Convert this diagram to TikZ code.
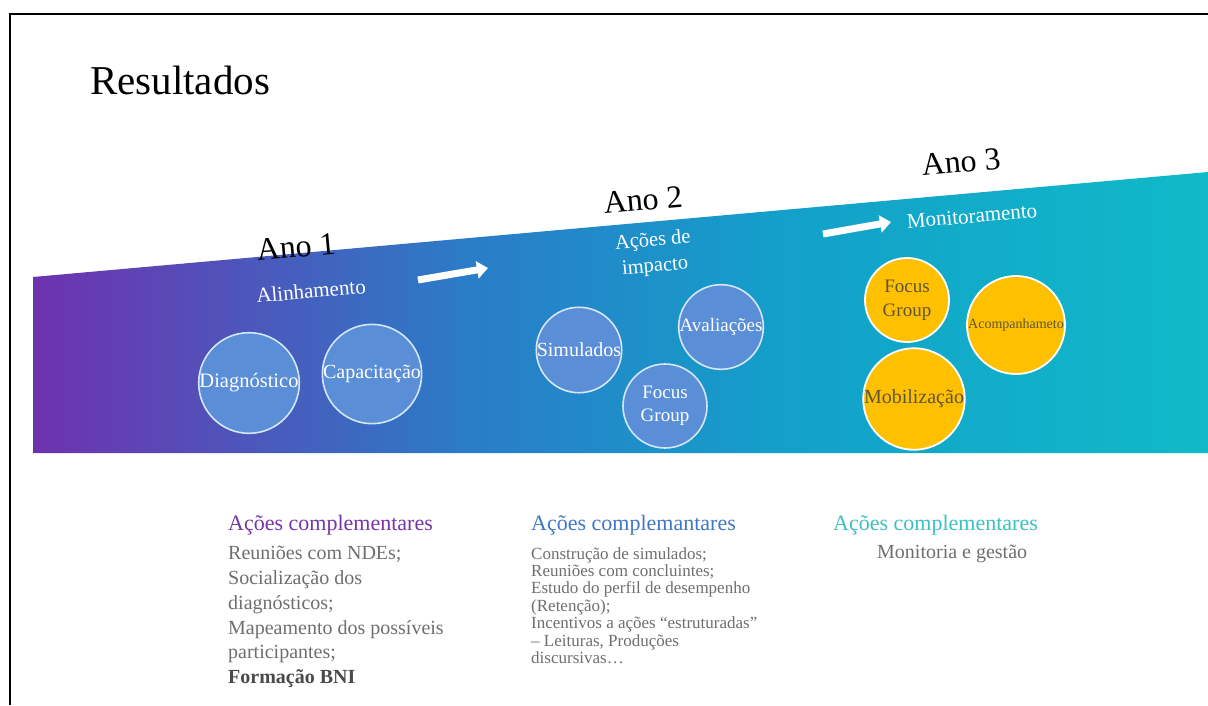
\documentclass[tikz,border=0pt]{standalone}
\usepackage{fontspec}
\setmainfont{Liberation Serif}
\usetikzlibrary{arrows.meta}
\definecolor{bandA}{HTML}{6E32AE}
\definecolor{bandB}{HTML}{2A7DC8}
\definecolor{bandC}{HTML}{13A0CA}
\definecolor{bandD}{HTML}{10BAC8}
\definecolor{bluefill}{HTML}{5A8FD8}
\definecolor{blueedge}{HTML}{D4E6F8}
\definecolor{goldfill}{HTML}{FFC000}
\definecolor{goldtext}{HTML}{5F5535}
\definecolor{titlepurple}{HTML}{7535A8}
\definecolor{titleblue}{HTML}{3F76C6}
\definecolor{titleteal}{HTML}{3EBFC2}
\definecolor{bodygray}{HTML}{6E6E6E}
\definecolor{boldgray}{HTML}{4A4A4A}
\pgfdeclarehorizontalshading{bandshade}{100bp}{color(0bp)=(bandA); color(25bp)=(bandA); color(43.8bp)=(bandB); color(57bp)=(bandC); color(75bp)=(bandD); color(100bp)=(bandD)}
\tikzset{
  bluecircle/.style={circle, fill=bluefill, draw=blueedge, line width=1.6pt, text=white, inner sep=0pt, align=center, font=\fontsize{19}{23}\selectfont},
  goldcircle/.style={circle, fill=goldfill, draw=white, line width=1.8pt, text=goldtext, inner sep=0pt, align=center, font=\fontsize{19}{24}\selectfont},
  yearlabel/.style={rotate=5, font=\fontsize{32}{34}\selectfont, text=black, inner sep=0pt},
  phaselabel/.style={rotate=5, text=white, inner sep=0pt, align=center, font=\fontsize{20.5}{26}\selectfont},
  blockarrow/.style={white, line width=7pt, -{Triangle[length=11pt,width=17pt]}},
  coltitle/.style={anchor=west, inner sep=0pt, font=\fontsize{22}{24}\selectfont},
  colbody/.style={anchor=north west, inner sep=0pt, align=left, text=bodygray}
}
\begin{document}
\begin{tikzpicture}[x=1pt,y=-1pt]
\useasboundingbox (0,0) rectangle (1208,705);
% frame
\draw[line width=2pt] (10,705) -- (10,14) -- (1208,14);
% title
\node[anchor=west, inner sep=0pt, font=\fontsize{41}{44}\selectfont] (title) at (90,80) {Resultados};
% band
\shade[shading=bandshade] (33,277) -- (1208,172) -- (1208,453) -- (33,453) -- cycle;
% year labels
\node[yearlabel] (ano1) at (296,247) {Ano 1};
\node[yearlabel] (ano2) at (643,200) {Ano 2};
\node[yearlabel] (ano3) at (961,162) {Ano 3};
% phase labels
\node[phaselabel, font=\fontsize{21}{23}\selectfont] (alin) at (311,291) {Alinhamento};
\node[phaselabel] (acoes) at (654,254) {Ações de\\impacto};
\node[phaselabel, font=\fontsize{21}{23}\selectfont] (monit) at (972,216) {Monitoramento};
% arrows
\coordinate (a1s) at (418,280);
\coordinate (a1e) at (488,268);
\coordinate (a2s) at (823,234);
\coordinate (a2e) at (891,222);
\draw[blockarrow] (a1s) -- (a1e);
\draw[blockarrow] (a2s) -- (a2e);
% year 1 circles
\node[bluecircle, minimum size=96pt, font=\fontsize{20.5}{23}\selectfont] (diag) at (249,383) {Diagnóstico};
\node[bluecircle, minimum size=95pt, font=\fontsize{20}{23}\selectfont] (capac) at (372,374) {Capacitação};
% year 2 circles
\node[bluecircle, minimum size=85pt, font=\fontsize{20}{22}\selectfont] (simul) at (579,350) {Simulados};
\node[bluecircle, minimum size=84pt] (aval) at (721,327) {Avaliações};
\node[bluecircle, minimum size=84pt] (focus2) at (665,406) {Focus\\Group};
% year 3 circles
\node[goldcircle, minimum size=84pt] (focus3) at (907,300) {Focus\\Group};
\node[goldcircle, minimum size=98pt, font=\fontsize{14}{16}\selectfont] (acomp) at (1016,325) {Acompanhameto};
\node[goldcircle, minimum size=97pt, font=\fontsize{20}{22}\selectfont] (mobil) at (914,399) {Mobilização};
% complementary actions
\node[coltitle, text=titlepurple] (t1) at (228,525) {Ações complementares};
\node[colbody, font=\fontsize{20}{24.8}\selectfont] (b1) at (228,546) {Reuniões com NDEs;\\Socialização dos\\diagnósticos;\\Mapeamento dos possíveis\\participantes;\\\textcolor{boldgray}{\textbf{Formação BNI}}};
\node[coltitle, text=titleblue] (t2) at (531,525) {Ações complemantares};
\node[colbody, font=\fontsize{17}{17.4}\selectfont] (b2) at (531,547) {Construção de simulados;\\Reuniões com concluintes;\\Estudo do perfil de desempenho\\(Retenção);\\Incentivos a ações “estruturadas”\\– Leituras, Produções\\discursivas…};
\node[coltitle, text=titleteal] (t3) at (833,525) {Ações complementares};
\node[colbody, font=\fontsize{20}{24}\selectfont] (b3) at (877,545) {Monitoria e gestão};
\end{tikzpicture}
\end{document}
